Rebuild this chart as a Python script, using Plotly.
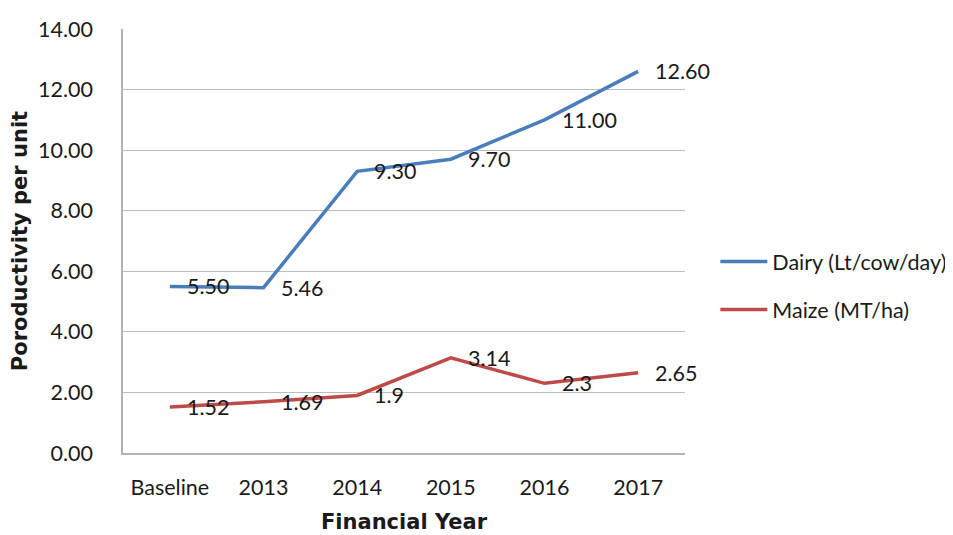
import plotly.graph_objects as go

categories = ["Baseline", "2013", "2014", "2015", "2016", "2017"]
dairy = [5.50, 5.46, 9.30, 9.70, 11.00, 12.60]
dairy_labels = ["5.50", "5.46", "9.30", "9.70", "11.00", "12.60"]
maize = [1.52, 1.69, 1.9, 3.14, 2.3, 2.65]
maize_labels = ["1.52", "1.69", "1.9", "3.14", "2.3", "2.65"]

FONT = "Lato, 'Open Sans', sans-serif"
TFONT = "'DejaVu Sans', Lato, sans-serif"
TXT = "#1a1a1a"

fig = go.Figure()
fig.add_trace(go.Scatter(
    x=categories, y=dairy, mode="lines", legendgroup="d",
    name="Dairy (Lt/cow/day)", line=dict(color="#4a7ebb", width=3.5),
))
fig.add_trace(go.Scatter(
    x=categories, y=maize, mode="lines", legendgroup="m",
    name="Maize (MT/ha)", line=dict(color="#be4b48", width=3.5),
))

annotations = []
for ys, ls in [(dairy, dairy_labels), (maize, maize_labels)]:
    for i, (y, l) in enumerate(zip(ys, ls)):
        annotations.append(dict(
            x=i, y=y, text=l, showarrow=False, xanchor="left", yanchor="middle",
            xshift=15, font=dict(size=21.5, color=TXT, family=FONT),
        ))

fig.update_layout(
    width=945, height=527,
    margin=dict(l=115, r=268, t=21, b=82, autoexpand=False),
    paper_bgcolor="white", plot_bgcolor="white",
    font=dict(family=FONT, size=21.5, color=TXT),
    annotations=annotations,
    legend=dict(x=1.054, y=0.395, xanchor="left", yanchor="middle", itemwidth=47,
                font=dict(size=21.5, family=FONT), tracegroupgap=17),
    xaxis=dict(
        type="category", showgrid=False, showline=True, linecolor="#b3b3b3", linewidth=1.5,
        ticks="", tickfont=dict(size=21.5), range=[-0.5, 5.5], ticklabelstandoff=14,
        automargin=False,
        title=dict(text="<b>Financial Year</b>", font=dict(size=21, family=TFONT), standoff=16),
    ),
    yaxis=dict(
        range=[0, 14], dtick=2, tickformat=".2f", showgrid=True, gridcolor="#bdbdbd",
        gridwidth=1.2, showline=True, linecolor="#b3b3b3", linewidth=1.5,
        ticks="", tickfont=dict(size=21.5), zeroline=False, ticklabelstandoff=24,
        automargin=False,
        title=dict(text="<b>Poroductivity per unit</b>", font=dict(size=21, family=TFONT), standoff=12),
    ),
)

fig.write_html("out.html")
